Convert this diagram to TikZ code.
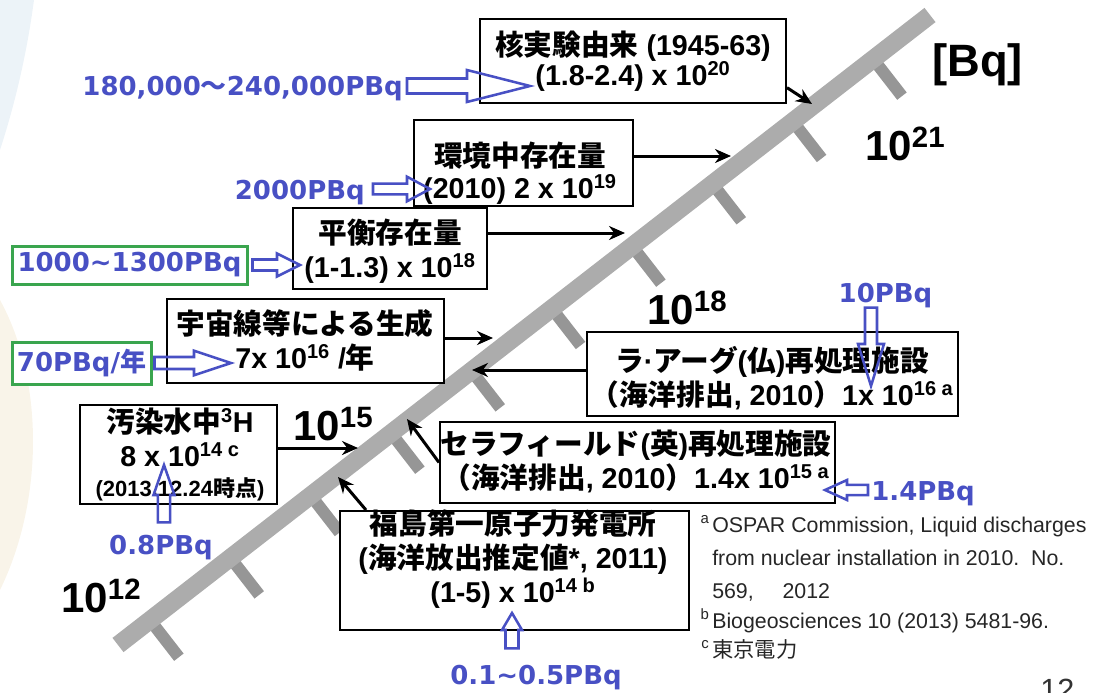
\documentclass[tikz,border=0pt]{standalone}
\usepackage{fontspec}
\setmainfont{Liberation Sans}
\newfontfamily\jpf{Noto Sans CJK JP}
\newfontfamily\dvf{DejaVu Sans}
\usetikzlibrary{arrows.meta,calc}
\definecolor{barc}{RGB}{172,172,172}
\definecolor{tickc}{RGB}{150,150,150}
\definecolor{bl}{RGB}{72,80,196}
\definecolor{gr}{RGB}{58,165,78}
\definecolor{bgblue}{RGB}{236,243,248}
\definecolor{bgbeige}{RGB}{249,244,233}
\newcommand\J[1]{{\jpf #1}}
\newcommand\barrow[5]{%
  \draw[barr] let \p1=(#1), \p2=(#2),
    \n1={atan2(\y2-\y1,\x2-\x1)}, \n2={veclen(\x2-\x1,\y2-\y1)} in
    [shift={(\p1)}, rotate=\n1]
    (0pt,{#3*0.75pt}) -- ({\n2*1pt-#5*0.75pt},{#3*0.75pt}) -- ({\n2*1pt-#5*0.75pt},{#4*0.75pt})
    -- ({\n2*1pt},0pt) -- ({\n2*1pt-#5*0.75pt},{-#4*0.75pt}) -- ({\n2*1pt-#5*0.75pt},{-#3*0.75pt})
    -- (0pt,{-#3*0.75pt}) -- cycle;}
\begin{document}
\begin{tikzpicture}[x=0.75pt,y=-0.75pt,
  box/.style={draw=black, line width=1.5pt, fill=white, inner sep=0pt},
  btxt/.style={align=center, inner sep=0pt, font={\fontsize{21.5}{25.5}\selectfont\bfseries}},
  arr/.style={draw=black, line width=2.25pt, -{Stealth[length=12pt,width=10.5pt]}},
  barr/.style={draw=bl, line width=1.9pt, line join=miter},
  blab/.style={text=bl, inner sep=0pt, font={\fontsize{19.5}{23}\selectfont\bfseries\dvf}},
  gbox/.style={blab, draw=gr, line width=2.25pt, fill=white},
  big/.style={inner sep=0pt, font={\fontsize{31.5}{36}\selectfont\bfseries}},
  fn/.style={inner sep=0pt, text=black!85, font={\fontsize{16}{19}\selectfont}},
  tick/.style={draw=tickc, line width=9pt},
  bar/.style={draw=barc, line width=13.5pt}]
\useasboundingbox (0,0) rectangle (1095,692);
% faint background
\fill[bgblue] (0,0) -- (34,0) .. controls (26,60) and (13,110) .. (0,150) -- cycle;
\fill[bgbeige] (0,300) .. controls (44,380) and (44,500) .. (0,590) -- cycle;
% scale bar
\coordinate (b0) at (118,645);
\coordinate (b1) at (930,15);
\foreach \k in {0,...,9}{
  \pgfmathsetmacro\s{40.6+101.7*\k}
  \draw[tick] ({118+0.790*\s},{645-0.613*\s}) -- ({118+0.790*\s+28.8},{645-0.613*\s+37.1});
}
\draw[bar] (b0) -- (b1);
% scale labels
\node[big, anchor=base west] (e21) at (865,160) {10\textsuperscript{21}};
\node[big, anchor=base west] (e18) at (647,324) {10\textsuperscript{18}};
\node[big, anchor=base west] (e15) at (293,440) {10\textsuperscript{15}};
\node[big, anchor=base west] (e12) at (61,612) {10\textsuperscript{12}};
\node[inner sep=0pt, anchor=base west, font={\fontsize{34}{40}\selectfont\bfseries}] (bq) at (932,77) {[Bq]};
% boxes
\node[box, minimum width=229.5pt, minimum height=63pt] (kaku) at (633,61) {};
\node[box, minimum width=164.25pt, minimum height=64.5pt] (kankyo) at (523.5,163) {};
\node[box, minimum width=145.5pt, minimum height=60.75pt] (heiko) at (390,248.5) {};
\node[box, minimum width=207.75pt, minimum height=63pt] (uchu) at (305.5,341) {};
\node[box, minimum width=147.75pt, minimum height=74.25pt] (osen) at (178.5,454.5) {};
\node[box, minimum width=278.25pt, minimum height=63pt] (la) at (772.5,374) {};
\node[box, minimum width=296.25pt, minimum height=60.75pt] (sella) at (637.5,462.5) {};
\node[box, minimum width=261.75pt, minimum height=89.25pt] (fuku) at (514.5,570.5) {};
% box texts
\node[btxt, font={\fontsize{21.5}{22.5}\selectfont\bfseries}] (kakuT) at (633,61) {\J{核実験由来} (1945-63)\\(1.8-2.4) x 10\textsuperscript{20}};
\node[btxt, font={\fontsize{21.5}{24.4}\selectfont\bfseries}] (kankyoT) at (520,173) {\J{環境中存在量}\\(2010) 2 x 10\textsuperscript{19}};
\node[btxt] (heikoT) at (390,251) {\J{平衡存在量}\\(1-1.3) x 10\textsuperscript{18}};
\node[btxt] (uchuT) at (305,340.5) {\J{宇宙線等による生成}\\7x 10\textsuperscript{16} /\J{年}};
\node[btxt] (osenT) at (180,454.5) {\J{汚染水中}\textsuperscript{3}H\\8 x 10\textsuperscript{14 c}\\[-3pt]{\fontsize{16.5}{20}\selectfont (2013.12.24\J{時点})}};
\node[btxt] (laT) at (772,378) {\J{ラ}·\J{アーグ}(\J{仏})\J{再処理施設}\\\J{（海洋排出}, 2010\J{）}1x 10\textsuperscript{16 a}};
\node[btxt] (sellaT) at (636,461.5) {\J{セラフィールド}(\J{英})\J{再処理施設}\\\J{（海洋排出}, 2010\J{）}1.4x 10\textsuperscript{15 a}};
\node[btxt] (fukuT) at (513,559) {\J{福島第一原子力発電所}\\(\J{海洋放出推定値}*, 2011)\\(1-5) x 10\textsuperscript{14 b}};
% arrow tips on the bar
\coordinate (tK) at (812,104);
\coordinate (tE) at (731,156);
\coordinate (tH) at (625,233);
\coordinate (tU) at (493,338);
\coordinate (tL) at (472,370);
\coordinate (tO) at (358,448);
\coordinate (tS) at (407,419);
\coordinate (tF) at (338,477);
\draw[arr] ($(kaku.east)!0.62!(kaku.south east)$) -- (tK);
\draw[arr] (kankyo.east |- tE) -- (tE);
\draw[arr] (heiko.east |- tH) -- (tH);
\draw[arr] (uchu.east |- tU) -- (tU);
\draw[arr] (la.west |- tL) -- (tL);
\draw[arr] (osen.east |- tO) -- (tO);
\draw[arr] (sella.west) -- (tS);
\draw[arr] ($(fuku.north west)+(27,0)$) -- (tF);
% blue labels
\node[blab, anchor=base east] (l180) at (403,95) {180,000\J{～}240,000PBq};
\node[blab, anchor=base east] (l2000) at (365,199) {2000PBq};
\node[gbox, minimum width=176.25pt, minimum height=28.5pt] (l1000) at (129.5,265) {1000\textasciitilde 1300PBq};
\node[gbox, minimum width=104.25pt, minimum height=31.5pt] (l70) at (81.5,363) {70PBq/\J{年}};
\node[blab, anchor=base] (l10) at (885.5,302) {10PBq};
\node[blab, anchor=base west] (l14) at (871,500) {1.4PBq};
\node[blab, anchor=base] (l08) at (161,554) {0.8PBq};
\node[blab, anchor=base] (l01) at (536,684) {0.1\textasciitilde 0.5PBq};
% blue hollow arrows
\coordinate (t180) at (530,86);
\coordinate (t2000) at (430,189);
\coordinate (t1000) at (300,265);
\coordinate (t70) at (231,363);
\coordinate (t10) at (871,386);
\coordinate (t14) at (825,490);
\coordinate (t08) at (164,465);
\coordinate (t01) at (512,613);
\barrow{$(l180.east |- t180)+(4,0)$}{t180}{7.5}{16}{63}
\barrow{$(l2000.east |- t2000)+(8,0)$}{t2000}{5.3}{12.3}{23}
\barrow{$(l1000.east |- t1000)+(4,0)$}{t1000}{5.5}{11.5}{23}
\barrow{$(l70.east |- t70)+(2,0)$}{t70}{6}{12.3}{37}
\barrow{t10 |- l10.south}{t10}{6}{13}{42}
\barrow{$(l14.west |- t14)+(-3,0)$}{t14}{5.2}{10}{22}
\barrow{$(t08 |- l08.north)+(0,-12)$}{t08}{6.1}{10.5}{30}
\barrow{$(t01 |- l01.north)+(0,-16)$}{t01}{6.5}{10}{17}
% footnotes
\node[fn, anchor=base west] (fa1) at (712,532) {\llap{\textsuperscript{a}\hspace{2pt}}OSPAR Commission, Liquid discharges};
\node[fn, anchor=base west] (fa2) at (712,565) {from nuclear installation in 2010.\ \ No.};
\node[fn, anchor=base west] (fa3) at (712,598) {569,\hspace{1.35em}2012};
\node[fn, anchor=base west] (fb) at (712,628) {\llap{\textsuperscript{b}\hspace{2pt}}Biogeosciences 10 (2013) 5481-96.};
\node[fn, anchor=base west] (fc) at (712,657) {\llap{\textsuperscript{c}\hspace{2pt}}\J{東京電力}};
\node[inner sep=0pt, anchor=base west, text=black!80, font={\fontsize{23}{27}\selectfont}] (pg) at (1040,700) {12};
\end{tikzpicture}
\end{document}
